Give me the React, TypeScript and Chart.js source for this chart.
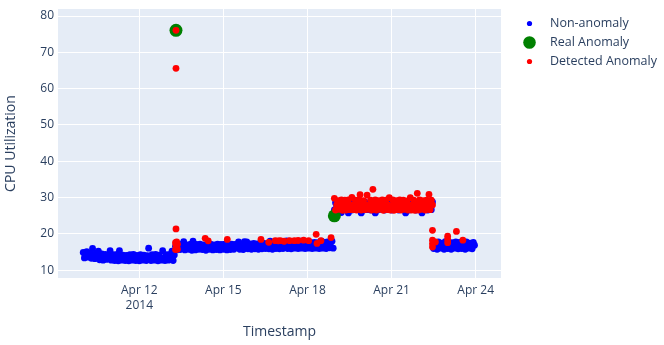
import React, { useEffect, useRef } from 'react';
import { Chart, registerables } from 'chart.js';

Chart.register(...registerables);

const FONT = "'Open Sans', sans-serif";
const TEXT = '#2a3f5f';

// ---- Non-anomaly readings (hourly), one array per level segment ----
const seg1Start = '2014-04-10T00:00';
const seg1Values = [
  14.9, 13.4, 14.2, 15.1, 13.6, 14.3, 14.8, 13.3,
  16.0, 14.0, 13.2, 14.7, 13.6, 15.3, 12.9, 13.8,
  14.5, 12.8, 13.6, 14.4, 13.0, 13.7, 14.2, 15.4,
  12.8, 13.5, 14.3, 12.7, 13.6, 14.4, 12.6, 15.4,
  13.4, 12.8, 14.2, 13.5, 12.7, 14.1, 13.6, 12.6,
  14.3, 13.4, 12.8, 14.4, 13.5, 12.7, 14.1, 13.6,
  12.6, 14.3, 13.4, 12.8, 14.2, 13.6, 12.7, 14.0,
  16.1, 13.5, 12.7, 14.3, 13.4, 12.8, 14.4, 13.6,
  12.6, 14.2, 13.5, 12.8, 15.4, 13.4, 12.7, 14.3,
  13.5, 12.8, 14.4, 13.6, 15.3, 12.7, 14.2,
];
const seg2Start = '2014-04-13T07:00';
const seg2Values = [
  16.6, 15.6, 17.2, 16.3, 15.7, 17.1, 16.4, 17.9,
  15.6, 16.5, 17.0, 15.8, 16.3, 17.2, 15.5, 18.0,
  16.4, 15.6, 17.1, 16.5, 15.8, 17.2, 16.3, 15.7,
  17.0, 16.4, 15.5, 17.1, 16.5, 15.8, 17.2, 16.3,
  15.6, 17.0, 16.4, 15.7, 17.2, 16.5, 15.6, 17.1,
  16.3, 15.8, 17.2, 16.4, 15.6, 17.1, 16.5, 15.7,
  17.2, 16.4, 15.8, 17.1, 16.5, 17.3, 17.8, 15.8,
  16.5, 17.2, 15.7, 17.9, 16.6, 17.8, 15.9, 16.6,
  17.3, 15.8, 16.6, 17.4, 15.9, 16.7, 17.3, 15.8,
  16.6, 17.4, 15.9, 16.7, 17.4, 16.0, 16.6, 17.3,
  15.9, 18.0, 16.7, 15.8, 17.4, 16.8, 16.0, 17.5,
  16.7, 15.9, 17.4, 16.8, 16.0, 17.5, 16.7, 18.1,
  16.0, 18.0, 16.8, 15.9, 17.6, 16.7, 16.1, 17.5,
  16.8, 16.0, 17.6, 18.0, 16.1, 16.9, 17.6, 16.0,
  16.8, 17.7, 16.1, 16.9, 17.6, 16.0, 16.8, 17.7,
  16.1, 16.9, 17.6, 16.0, 16.8, 18.0, 16.1, 17.7,
  16.9, 16.0, 17.8, 16.8, 16.2, 17.7, 18.0, 16.1,
];
const seg3Start = '2014-04-18T23:00';
const seg3Values = [
  26.6, 28.6, 27.5, 26.7, 28.9, 27.6, 25.9, 28.4,
  27.5, 26.7, 28.7, 27.6, 25.8, 28.5, 27.4, 26.6,
  28.8, 27.5, 26.7, 28.6, 27.6, 26.8, 28.9, 25.8,
  27.5, 26.6, 28.8, 27.6, 26.7, 28.5, 27.4, 26.6,
  28.9, 27.5, 26.7, 25.8, 27.6, 26.6, 28.8, 27.5,
  26.8, 28.6, 27.4, 26.6, 28.9, 27.5, 26.7, 28.7,
  27.6, 26.6, 28.5, 27.5, 26.8, 28.8, 27.4, 26.6,
  28.6, 27.6, 26.7, 28.9, 27.5, 25.8, 28.7, 27.4,
  26.6, 28.5, 27.6, 26.7, 28.8, 27.5, 26.6, 28.6,
  27.4, 26.8, 28.9, 25.8, 27.5, 26.7, 28.7, 27.6,
  26.6, 28.6, 27.5, 26.7, 28.8,
];
const seg4Start = '2014-04-22T12:00';
const seg4Values = [
  16.0, 17.6, 16.8, 15.8, 17.8, 16.9, 16.1, 17.5,
  16.7, 15.8, 17.9, 16.8, 16.0, 17.7, 16.9, 15.8,
  17.6, 16.8, 16.1, 17.8, 16.7, 15.9, 17.7, 16.8,
  16.0, 17.6, 16.9, 15.8, 17.8, 16.7, 16.1, 17.5,
  16.8, 15.9, 17.7, 16.9,
];

// ---- Real anomalies (labelled) ----
const realTimes = ['2014-04-13T07:25', '2014-04-18T23:00'];
const realValues = [76.05, 25.0];

// ---- Detected anomalies: isolated points ----
const detectedTimes = [
  '2014-04-13T07:00', '2014-04-13T07:00',
  '2014-04-13T07:25', '2014-04-13T07:25', '2014-04-13T07:25', '2014-04-13T07:25',
  '2014-04-13T08:00', '2014-04-13T08:00', '2014-04-13T08:40', '2014-04-13T08:40',
  '2014-04-14T08:25', '2014-04-14T11:00', '2014-04-15T03:20', '2014-04-16T08:10',
  '2014-04-16T14:50', '2014-04-16T20:25', '2014-04-16T23:00', '2014-04-17T00:45',
  '2014-04-17T04:00', '2014-04-17T08:40', '2014-04-17T12:45', '2014-04-17T16:00',
  '2014-04-17T20:40', '2014-04-18T01:00', '2014-04-18T07:25', '2014-04-18T08:10',
  '2014-04-18T11:30', '2014-04-18T20:10',
  '2014-04-22T11:00', '2014-04-22T11:00', '2014-04-22T11:00', '2014-04-22T11:00',
  '2014-04-22T13:30', '2014-04-23T00:00', '2014-04-23T00:00', '2014-04-23T00:00',
  '2014-04-23T07:30', '2014-04-23T13:00',
];
const detectedValues = [
  17.6, 15.7,
  76.05, 65.6, 21.4, 16.9,
  17.8, 16.2, 17.2, 15.8,
  18.8, 18.1, 18.5, 18.5,
  17.7, 18.15, 18.1, 18.15,
  18.0, 18.15, 18.15, 18.2,
  18.3, 18.15, 19.9, 17.4,
  18.15, 19.0,
  21.0, 18.3, 17.3, 16.4,
  17.8, 19.4, 18.5, 17.6,
  20.7, 18.3,
];
// ---- Detected anomalies: hourly run during the high level ----
const detectedRunStart = '2014-04-18T23:00';
const detectedRunValues = [
  29.8, 26.6, 28.0, 29.2, 26.8, 27.9, 29.4, 26.5,
  28.1, 29.3, 26.6, 27.8, 29.4, 26.7, 28.0, 30.1,
  26.7, 27.9, 29.3, 26.6, 28.1, 29.4, 30.8, 26.6,
  27.9, 29.2, 26.7, 28.0, 30.7, 26.8, 27.8, 29.3,
  26.6, 32.3, 28.0, 29.4, 26.6, 27.9, 29.2, 26.8,
  28.1, 29.4, 26.5, 27.9, 29.3, 26.7, 28.0, 30.0,
  26.6, 27.8, 29.4, 26.5, 28.1, 29.2, 26.7, 27.9,
  29.4, 26.6, 28.0, 29.3, 26.8, 27.9, 29.1, 26.6,
  28.0, 30.0, 26.6, 27.9, 29.3, 26.5, 28.1, 31.2,
  26.6, 29.4, 27.9, 26.8, 29.2, 28.0, 26.6, 29.3,
  27.9, 30.9, 26.7, 29.3, 28.0,
];

// ---- Axes ----
const xTickDates = ['2014-04-12T00:00', '2014-04-15T00:00', '2014-04-18T00:00', '2014-04-21T00:00', '2014-04-24T00:00'];
const xTickLabels: (string | string[])[] = [['Apr 12', '2014'], 'Apr 15', 'Apr 18', 'Apr 21', 'Apr 24'];
const yTickValues = [10, 20, 30, 40, 50, 60, 70, 80];
const xRange = ['2014-04-09T02:24', '2014-04-24T21:40'];
const yRange = [7.88, 81.93];
const seriesLabels = ['Non-anomaly', 'Real Anomaly', 'Detected Anomaly'];
const seriesColors = ['#0000ff', '#008000', '#ff0000'];

const HOUR = 3600000;
const ts = (s: string) => Date.parse(s + ':00Z');
const hourly = (start: string, vals: number[]) => vals.map((v, i) => ({ x: ts(start) + i * HOUR, y: v }));

export default function App() {
  const ref = useRef<HTMLCanvasElement | null>(null);

  useEffect(() => {
    if (!ref.current) return;
    const blue = [
      ...hourly(seg1Start, seg1Values),
      ...hourly(seg2Start, seg2Values),
      ...hourly(seg3Start, seg3Values),
      ...hourly(seg4Start, seg4Values),
    ];
    const green = realTimes.map((t, i) => ({ x: ts(t), y: realValues[i] }));
    const red = [
      ...detectedTimes.map((t, i) => ({ x: ts(t), y: detectedValues[i] })),
      ...hourly(detectedRunStart, detectedRunValues),
    ];

    const bgPlugin = {
      id: 'bg',
      beforeDraw(chart: any) {
        const { ctx, chartArea: a } = chart;
        ctx.save();
        ctx.fillStyle = '#ffffff';
        ctx.fillRect(0, 0, chart.width, chart.height);
        ctx.fillStyle = '#e5ecf6';
        ctx.fillRect(a.left, a.top, a.right - a.left, a.bottom - a.top);
        ctx.restore();
      },
    };

    const overlayPlugin = {
      id: 'overlay',
      afterDraw(chart: any) {
        const { ctx } = chart;
        ctx.save();
        // legend
        const legendY = [23.5, 42.5, 61.5];
        const legendR = [2.6, 6.3, 2.6];
        ctx.font = `12.5px ${FONT}`;
        ctx.textBaseline = 'middle';
        ctx.textAlign = 'left';
        seriesLabels.forEach((lab, i) => {
          ctx.beginPath();
          ctx.arc(529.5, legendY[i], legendR[i], 0, Math.PI * 2);
          ctx.fillStyle = seriesColors[i];
          ctx.fill();
          ctx.fillStyle = TEXT;
          ctx.fillText(lab, 550, legendY[i]);
        });
        // axis titles
        ctx.font = `14px ${FONT}`;
        ctx.textAlign = 'center';
        ctx.fillStyle = TEXT;
        ctx.fillText('Timestamp', 279.5, 332.5);
        ctx.translate(11, 143.5);
        ctx.rotate(-Math.PI / 2);
        ctx.fillText('CPU Utilization', 0, 0);
        ctx.restore();
      },
    };

    const tickFont = { family: FONT, size: 12, lineHeight: 1.25 };

    const chart = new Chart(ref.current, {
      type: 'scatter',
      data: {
        datasets: [
          { label: seriesLabels[0], data: blue, backgroundColor: seriesColors[0], borderWidth: 0, pointRadius: 3.4, order: 3 },
          { label: seriesLabels[1], data: green, backgroundColor: seriesColors[1], borderWidth: 0, pointRadius: 6.5, order: 2 },
          { label: seriesLabels[2], data: red, backgroundColor: seriesColors[2], borderWidth: 0, pointRadius: 3.4, order: 1 },
        ],
      },
      options: {
        animation: false,
        responsive: false,
        events: [],
        layout: { padding: { left: 0, top: 9, right: 163, bottom: 0 } },
        plugins: { legend: { display: false }, tooltip: { enabled: false } },
        scales: {
          x: {
            type: 'linear',
            min: ts(xRange[0]),
            max: ts(xRange[1]),
            afterBuildTicks: (s: any) => { s.ticks = xTickDates.map((d) => ({ value: ts(d) })); },
            afterFit: (s: any) => { s.height = 67; s.paddingLeft = 0; s.paddingRight = 0; s.paddingTop = 0; s.paddingBottom = 0; },
            ticks: {
              autoSkip: false, maxRotation: 0, minRotation: 0, padding: 5, color: TEXT, font: tickFont,
              callback: (_v: any, i: number) => xTickLabels[i],
            },
            grid: { color: '#ffffff', lineWidth: 1, drawTicks: false },
            border: { display: false },
          },
          y: {
            type: 'linear',
            min: yRange[0],
            max: yRange[1],
            afterBuildTicks: (s: any) => { s.ticks = yTickValues.map((v) => ({ value: v })); },
            afterFit: (s: any) => { s.width = 58; s.paddingLeft = 0; s.paddingRight = 0; s.paddingTop = 0; s.paddingBottom = 0; },
            ticks: { padding: 4, color: TEXT, font: { family: FONT, size: 12 } },
            grid: { color: '#ffffff', lineWidth: 1, drawTicks: false },
            border: { display: false },
          },
        },
      },
      plugins: [bgPlugin, overlayPlugin],
    } as any);
    return () => chart.destroy();
  }, []);

  return (
    <div style={{ position: 'fixed', left: 0, top: 0, width: 664, height: 345, background: '#fff' }}>
      <canvas ref={ref} width={664} height={345} style={{ display: 'block', width: 664, height: 345 }} />
    </div>
  );
}
